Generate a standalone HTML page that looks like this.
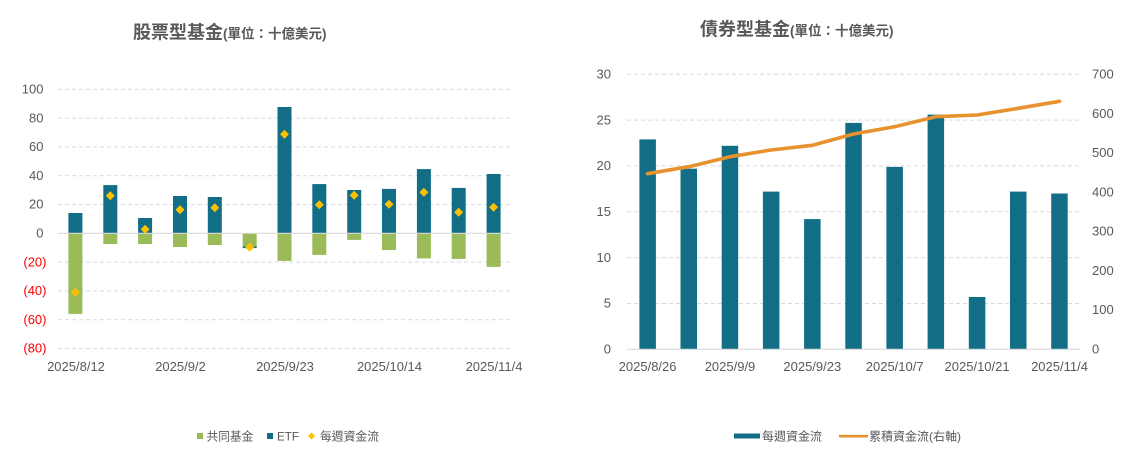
<!DOCTYPE html>
<html>
<head>
<meta charset="utf-8">
<style>
  html,body{margin:0;padding:0;background:#fff;}
  svg{display:block;}
  text{font-family:"Liberation Sans","Noto Sans CJK TC",sans-serif;}
</style>
</head>
<body>
<svg width="1127" height="455" viewBox="0 0 1127 455" xmlns="http://www.w3.org/2000/svg">
  <rect width="1127" height="455" fill="#fff"/>

  <!-- ================= LEFT CHART ================= -->
  <text x="133" y="38.5" font-size="18" font-weight="bold" fill="#595959">股票型基金<tspan font-size="13.5">(單位：十億美元)</tspan></text>

  <!-- gridlines -->
  <g stroke="#D9D9D9" stroke-width="1" stroke-dasharray="4,3">
    <line x1="58" x2="511" y1="89.3" y2="89.3"/>
    <line x1="58" x2="511" y1="118.1" y2="118.1"/>
    <line x1="58" x2="511" y1="146.9" y2="146.9"/>
    <line x1="58" x2="511" y1="175.7" y2="175.7"/>
    <line x1="58" x2="511" y1="204.5" y2="204.5"/>
    <line x1="58" x2="511" y1="262.1" y2="262.1"/>
    <line x1="58" x2="511" y1="290.9" y2="290.9"/>
    <line x1="58" x2="511" y1="319.7" y2="319.7"/>
    <line x1="58" x2="511" y1="348.5" y2="348.5"/>
  </g>

  <!-- ETF bars -->
  <g fill="#116E86">
    <rect x="68.4" y="213.0" width="14" height="20.3"/>
    <rect x="103.3" y="185.1" width="14" height="48.2"/>
    <rect x="138.1" y="218.0" width="14" height="15.3"/>
    <rect x="173.0" y="196.0" width="14" height="37.3"/>
    <rect x="207.8" y="197.0" width="14" height="36.3"/>
    <rect x="242.7" y="246.5" width="14" height="1.6"/>
    <rect x="277.5" y="107.0" width="14" height="126.3"/>
    <rect x="312.3" y="184.1" width="14" height="49.2"/>
    <rect x="347.2" y="190.0" width="14" height="43.3"/>
    <rect x="382.0" y="188.9" width="14" height="44.4"/>
    <rect x="416.9" y="169.1" width="14" height="64.2"/>
    <rect x="451.7" y="187.9" width="14" height="45.4"/>
    <rect x="486.6" y="174.0" width="14" height="59.3"/>
  </g>
  <!-- Mutual fund bars -->
  <g fill="#9BBB59">
    <rect x="68.4" y="233.3" width="14" height="80.6"/>
    <rect x="103.3" y="233.3" width="14" height="10.7"/>
    <rect x="138.1" y="233.3" width="14" height="10.7"/>
    <rect x="173.0" y="233.3" width="14" height="13.7"/>
    <rect x="207.8" y="233.3" width="14" height="11.7"/>
    <rect x="242.7" y="233.3" width="14" height="13.2"/>
    <rect x="277.5" y="233.3" width="14" height="27.6"/>
    <rect x="312.3" y="233.3" width="14" height="21.6"/>
    <rect x="347.2" y="233.3" width="14" height="6.6"/>
    <rect x="382.0" y="233.3" width="14" height="16.7"/>
    <rect x="416.9" y="233.3" width="14" height="25.1"/>
    <rect x="451.7" y="233.3" width="14" height="25.6"/>
    <rect x="486.6" y="233.3" width="14" height="33.6"/>
  </g>
  <!-- zero axis -->
  <line x1="58" x2="511" y1="233.3" y2="233.3" stroke="#D9D9D9" stroke-width="1.2"/>

  <!-- diamonds -->
  <g fill="#FFC000">
    <polygon points="75.4,287.8 79.9,292.3 75.4,296.8 70.9,292.3"/>
    <polygon points="110.3,191.2 114.8,195.7 110.3,200.2 105.8,195.7"/>
    <polygon points="145.1,224.8 149.6,229.3 145.1,233.8 140.6,229.3"/>
    <polygon points="180.0,205.2 184.5,209.7 180.0,214.2 175.5,209.7"/>
    <polygon points="214.8,203.2 219.3,207.7 214.8,212.2 210.3,207.7"/>
    <polygon points="249.7,242.8 254.2,247.3 249.7,251.8 245.2,247.3"/>
    <polygon points="284.5,129.8 289.0,134.3 284.5,138.8 280.0,134.3"/>
    <polygon points="319.3,200.2 323.8,204.7 319.3,209.2 314.8,204.7"/>
    <polygon points="354.2,190.8 358.7,195.3 354.2,199.8 349.7,195.3"/>
    <polygon points="389.0,199.8 393.5,204.3 389.0,208.8 384.5,204.3"/>
    <polygon points="423.9,187.8 428.4,192.3 423.9,196.8 419.4,192.3"/>
    <polygon points="458.7,207.8 463.2,212.3 458.7,216.8 454.2,212.3"/>
    <polygon points="493.6,202.8 498.1,207.3 493.6,211.8 489.1,207.3"/>
  </g>

  <!-- y labels -->
  <g font-size="13" fill="#595959" text-anchor="end">
    <text x="43.5" y="93.5">100</text>
    <text x="43.5" y="122.3">80</text>
    <text x="43.5" y="151.1">60</text>
    <text x="43.5" y="179.9">40</text>
    <text x="43.5" y="208.7">20</text>
    <text x="43.5" y="237.5">0</text>
  </g>
  <g font-size="13" fill="#FF0000" text-anchor="end">
    <text x="46.5" y="266.3">(20)</text>
    <text x="46.5" y="295.1">(40)</text>
    <text x="46.5" y="323.9">(60)</text>
    <text x="46.5" y="352.7">(80)</text>
  </g>

  <!-- x labels -->
  <g font-size="13" fill="#595959" text-anchor="middle">
    <text x="76" y="371">2025/8/12</text>
    <text x="180.5" y="371">2025/9/2</text>
    <text x="285" y="371">2025/9/23</text>
    <text x="389.5" y="371">2025/10/14</text>
    <text x="494" y="371">2025/11/4</text>
  </g>

  <!-- legend left -->
  <rect x="197" y="433" width="6" height="6" fill="#9BBB59"/>
  <text x="206.5" y="440.5" font-size="11.7" fill="#595959">共同基金</text>
  <rect x="267" y="433" width="6" height="6" fill="#116E86"/>
  <text x="277" y="440.5" font-size="11.7" fill="#595959">ETF</text>
  <polygon points="311.5,432.5 315,436 311.5,439.5 308,436" fill="#FFC000"/>
  <text x="320" y="440.5" font-size="11.8" fill="#595959">每週資金流</text>

  <!-- ================= RIGHT CHART ================= -->
  <text x="700" y="35.5" font-size="18" font-weight="bold" fill="#595959">債券型基金<tspan font-size="13.5">(單位：十億美元)</tspan></text>

  <g stroke="#D9D9D9" stroke-width="1" stroke-dasharray="4,3">
    <line x1="627" x2="1080" y1="74.3" y2="74.3"/>
    <line x1="627" x2="1080" y1="120.1" y2="120.1"/>
    <line x1="627" x2="1080" y1="165.9" y2="165.9"/>
    <line x1="627" x2="1080" y1="211.8" y2="211.8"/>
    <line x1="627" x2="1080" y1="257.6" y2="257.6"/>
    <line x1="627" x2="1080" y1="303.5" y2="303.5"/>
  </g>

  <g fill="#116E86">
    <rect x="639.4" y="139.4" width="16.5" height="209.9"/>
    <rect x="680.5" y="168.7" width="16.5" height="180.6"/>
    <rect x="721.7" y="145.8" width="16.5" height="203.5"/>
    <rect x="762.9" y="191.6" width="16.5" height="157.7"/>
    <rect x="804.1" y="219.1" width="16.5" height="130.2"/>
    <rect x="845.3" y="122.9" width="16.5" height="226.4"/>
    <rect x="886.4" y="166.9" width="16.5" height="182.4"/>
    <rect x="927.6" y="114.6" width="16.5" height="234.7"/>
    <rect x="968.8" y="297.0" width="16.5" height="52.3"/>
    <rect x="1010.0" y="191.6" width="16.5" height="157.7"/>
    <rect x="1051.2" y="193.5" width="16.5" height="155.8"/>
  </g>
  <line x1="627" x2="1080" y1="349.3" y2="349.3" stroke="#D9D9D9" stroke-width="1.2"/>

  <polyline fill="none" stroke="#E8922F" stroke-width="3.6" stroke-linejoin="round" stroke-linecap="round"
    points="647.6,173.7 688.8,166.7 730.0,156.7 771.1,150.0 812.3,145.3 853.5,134.0 894.7,126.7 935.9,116.7 977.1,115.0 1018.3,108.3 1059.5,101.3"/>

  <!-- left y labels -->
  <g font-size="13" fill="#595959" text-anchor="end">
    <text x="611" y="78.5">30</text>
    <text x="611" y="124.3">25</text>
    <text x="611" y="170.1">20</text>
    <text x="611" y="216">15</text>
    <text x="611" y="261.8">10</text>
    <text x="611" y="307.7">5</text>
    <text x="611" y="353.5">0</text>
  </g>
  <!-- right y labels -->
  <g font-size="13" fill="#595959">
    <text x="1092" y="78.5">700</text>
    <text x="1092" y="117.8">600</text>
    <text x="1092" y="157.1">500</text>
    <text x="1092" y="196.3">400</text>
    <text x="1092" y="235.6">300</text>
    <text x="1092" y="274.9">200</text>
    <text x="1092" y="314.2">100</text>
    <text x="1092" y="353.5">0</text>
  </g>

  <g font-size="13" fill="#595959" text-anchor="middle">
    <text x="647.6" y="371">2025/8/26</text>
    <text x="730" y="371">2025/9/9</text>
    <text x="812.3" y="371">2025/9/23</text>
    <text x="894.7" y="371">2025/10/7</text>
    <text x="977.1" y="371">2025/10/21</text>
    <text x="1059.5" y="371">2025/11/4</text>
  </g>

  <!-- legend right -->
  <rect x="734" y="433.5" width="26" height="5" fill="#116E86"/>
  <text x="762" y="440.5" font-size="12" fill="#595959">每週資金流</text>
  <line x1="839" x2="868" y1="436.2" y2="436.2" stroke="#E8922F" stroke-width="2.6"/>
  <text x="869" y="440.5" font-size="12" fill="#595959">累積資金流(右軸)</text>
</svg>
</body>
</html>
